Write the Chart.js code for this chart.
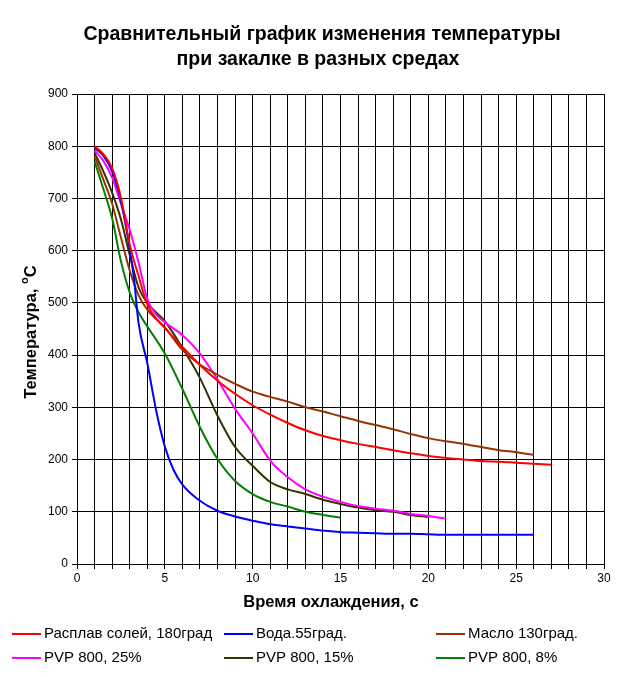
<!DOCTYPE html>
<html lang="ru">

<head>
    <meta charset="utf-8">
    <title>Сравнительный график</title>
    <script src="https://cdn.jsdelivr.net/npm/chart.js@4.4.0/dist/chart.umd.min.js"></script>
    <style>
        html, body {
            margin: 0;
            padding: 0;
            background: #fff;
        }

        #wrap {
            width: 622px;
            height: 677px;
        }
    </style>
</head>

<body>
    <div id="wrap">
        <canvas id="myChart" width="622" height="677"></canvas>
    </div>

    <script>
        // подписи
        var titleLines = ['Сравнительный график изменения температуры', 'при закалке в разных средах'];
        var xTitle = 'Время охлаждения, с';
        var yTitle = 'Температура, ';

        var seriesNames = ['Расплав солей, 180град', 'Вода.55град.', 'Масло 130град.', 'PVP 800, 25%', 'PVP 800, 15%', 'PVP 800, 8%'];
        var seriesColors = ['#ff0000', '#0000ff', '#993300', '#ff00ff', '#333300', '#008000'];

        // данные (время, с / температура, °C)
        var saltTime = [1, 1.5, 2, 2.5, 3, 3.5, 4, 5, 6, 7, 8, 9, 10, 11, 12, 13, 14, 15, 16, 17, 18, 19, 20, 21, 22, 23, 24, 25, 26, 27];
        var saltTemp = [800, 785, 758, 702, 612, 552, 497, 452, 416, 381, 351, 326, 304, 286, 270, 256, 245, 237, 230, 224, 218, 212, 207, 203, 200, 197, 196, 194, 192, 190];

        var waterTime = [1, 1.5, 2, 2.5, 3, 3.25, 3.5, 4, 4.5, 5, 5.5, 6, 7, 8, 9, 10, 11, 12, 13, 14, 15, 16, 17, 18, 19, 20, 21, 22, 23, 24, 25, 26];
        var waterTemp = [797, 782, 752, 695, 603, 545, 462, 385, 295, 225, 180, 152, 121, 102, 91, 83, 76, 72, 68, 64, 61, 60, 59, 58, 58, 57, 56, 56, 56, 56, 56, 56];

        var oilTime = [1, 1.5, 2, 2.5, 3, 3.5, 4, 5, 6, 7, 8, 9, 10, 11, 12, 13, 14, 15, 16, 17, 18, 19, 20, 21, 22, 23, 24, 25, 26];
        var oilTemp = [781, 736, 690, 625, 562, 515, 487, 453, 410, 382, 362, 345, 330, 320, 311, 300, 292, 283, 274, 266, 258, 249, 241, 235, 230, 224, 218, 214, 209];

        var pvp25Time = [1, 1.5, 2, 2.5, 3, 3.5, 4, 4.5, 5, 6, 7, 8, 9, 10, 11, 12, 13, 14, 15, 16, 17, 18, 19, 20, 21];
        var pvp25Temp = [792, 772, 740, 690, 640, 578, 508, 478, 463, 438, 403, 353, 297, 250, 198, 166, 143, 129, 119, 111, 106, 102, 96, 92, 87];

        var pvp15Time = [1, 1.5, 2, 2.5, 3, 3.5, 4, 5, 6, 7, 8, 9, 10, 11, 12, 13, 14, 15, 16, 17, 18, 19, 20];
        var pvp15Temp = [787, 752, 711, 660, 592, 530, 500, 465, 414, 356, 284, 224, 188, 157, 143, 134, 123, 115, 108, 103, 100, 94, 90];

        var pvp8Time = [1, 1.5, 2, 2.5, 3, 3.5, 4, 5, 6, 7, 8, 9, 10, 11, 12, 13, 14, 15];
        var pvp8Temp = [771, 718, 662, 580, 520, 482, 455, 403, 335, 262, 201, 159, 134, 119, 110, 100, 94, 89];

        var allTimes = [saltTime, waterTime, oilTime, pvp25Time, pvp15Time, pvp8Time];
        var allTemps = [saltTemp, waterTemp, oilTemp, pvp25Temp, pvp15Temp, pvp8Temp];

        var xMin = 0, xMax = 30, xLabelStep = 5;
        var yMin = 0, yMax = 900, yStep = 100;

        var FONT = '"Liberation Sans", Arial, sans-serif';

        function toPoints(t, v) {
            var pts = [];
            for (var i = 0; i < t.length; i++) {
                pts.push({ x: t[i], y: v[i] });
            }
            return pts;
        }

        var datasets = [];
        for (var i = 0; i < seriesNames.length; i++) {
            datasets.push({
                label: seriesNames[i],
                data: toPoints(allTimes[i], allTemps[i]),
                borderColor: seriesColors[i],
                backgroundColor: seriesColors[i],
                borderWidth: 2,
                pointRadius: 0,
                fill: false,
                cubicInterpolationMode: 'monotone'
            });
        }

        // заголовок, подписи осей и легенда рисуются вручную
        var textPlugin = {
            id: 'textPlugin',
            afterDraw: function (chart) {
                var c = chart.ctx;
                c.save();
                c.fillStyle = '#000';

                // заголовок
                c.font = 'bold 19.5px ' + FONT;
                c.textAlign = 'center';
                c.textBaseline = 'alphabetic';
                c.fillText(titleLines[0], 322, 40);
                c.fillText(titleLines[1], 318, 65);

                // ось X
                c.font = 'bold 16.5px ' + FONT;
                c.fillText(xTitle, 331, 607);

                // ось Y (с надстрочным o)
                c.translate(36, 332);
                c.rotate(-Math.PI / 2);
                var w1 = c.measureText(yTitle).width;
                c.font = 'bold 11px ' + FONT;
                var w2 = c.measureText('o').width;
                c.font = 'bold 16.5px ' + FONT;
                var w3 = c.measureText('C').width;
                var start = -(w1 + w2 + w3) / 2;
                c.textAlign = 'left';
                c.fillText(yTitle, start, 0);
                c.font = 'bold 11px ' + FONT;
                c.fillText('o', start + w1, -8);
                c.font = 'bold 16.5px ' + FONT;
                c.fillText('C', start + w1 + w2, 0);
                c.restore();

                // легенда
                c.save();
                var colX = [12, 224, 436];
                var rowY = [634, 658];
                c.font = '15px ' + FONT;
                c.textAlign = 'left';
                c.textBaseline = 'middle';
                for (var k = 0; k < chart.data.datasets.length; k++) {
                    var ds = chart.data.datasets[k];
                    var lx = colX[k % 3];
                    var ly = rowY[Math.floor(k / 3)];
                    c.strokeStyle = ds.borderColor;
                    c.lineWidth = 2;
                    c.beginPath();
                    c.moveTo(lx, ly);
                    c.lineTo(lx + 29, ly);
                    c.stroke();
                    c.fillStyle = '#000';
                    c.fillText(ds.label, lx + 32, ly);
                }
                c.restore();
            }
        };

        var ctx = document.getElementById('myChart').getContext('2d');
        var myChart = new Chart(ctx, {
            type: 'line',
            data: { datasets: datasets },
            options: {
                responsive: false,
                animation: false,
                layout: { padding: { left: 0, right: 18, top: 94, bottom: 0 } },
                plugins: {
                    legend: { display: false },
                    title: { display: false },
                    tooltip: { enabled: false }
                },
                scales: {
                    x: {
                        type: 'linear',
                        min: xMin,
                        max: xMax,
                        afterFit: function (scale) { scale.height = 113; },
                        ticks: {
                            stepSize: 1,
                            autoSkip: false,
                            maxRotation: 0,
                            padding: 2,
                            color: '#000',
                            font: { family: FONT, size: 12 },
                            callback: function (v) { return v % xLabelStep === 0 ? v : ''; }
                        },
                        grid: { color: '#000', lineWidth: 1, tickLength: 5 },
                        border: { color: '#000', width: 1 }
                    },
                    y: {
                        min: yMin,
                        max: yMax,
                        afterFit: function (scale) { scale.width = 77; },
                        ticks: {
                            stepSize: yStep,
                            padding: 4,
                            color: '#000',
                            font: { family: FONT, size: 12 }
                        },
                        grid: { color: '#000', lineWidth: 1, tickLength: 5 },
                        border: { color: '#000', width: 1 }
                    }
                }
            },
            plugins: [textPlugin]
        });
    </script>
</body>

</html>
